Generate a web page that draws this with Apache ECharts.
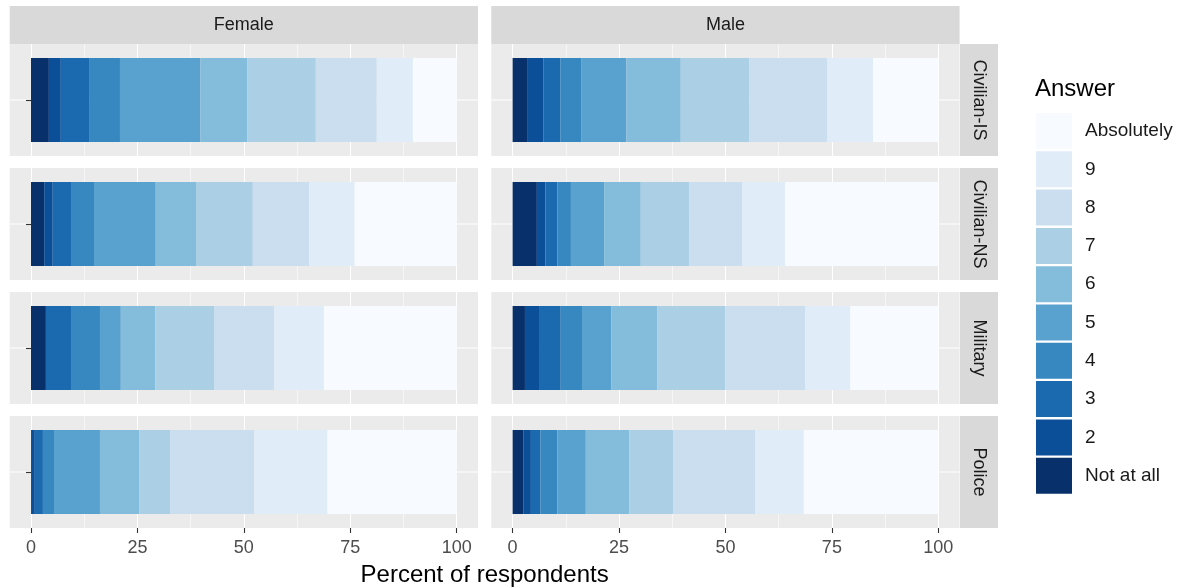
<!DOCTYPE html>
<html lang="en">
<head>
    <meta charset="UTF-8">
    <title>Answer by group</title>
    <script type="text/javascript" src="https://cdn.jsdelivr.net/npm/echarts@6/dist/echarts.min.js"></script>
    <style>
        html, body { margin: 0; padding: 0; background: #fff; }
        #container { width: 1184px; height: 588px; }
    </style>
</head>
<body>
<div id="container"></div>
<script type="text/javascript">
    // answer levels, from "Not at all" up to "Absolutely"
    var levels = ['Not at all', '2', '3', '4', '5', '6', '7', '8', '9', 'Absolutely'];
    var levelColors = ['#08306B', '#0B4F98', '#1B69AF', '#3787C0', '#59A1CF', '#84BCDB', '#ABCFE5', '#CADEF0', '#E0ECF8', '#F7FBFF'];
    var sexes = ['Female', 'Male'];
    var groups = ['Civilian-IS', 'Civilian-NS', 'Military', 'Police'];
    var xTicks = [0, 25, 50, 75, 100];

    // percent of respondents per level (Not at all ... Absolutely)
    var femaleCivilianIS = [4.2, 2.8, 6.8, 7.1, 18.9, 11.0, 16.1, 14.3, 8.5, 10.3];
    var femaleCivilianNS = [3.1, 2.0, 4.3, 5.4, 14.5, 9.6, 13.2, 13.2, 10.7, 24.0];
    var femaleMilitary   = [3.5, 0.0, 5.9, 6.8, 4.9, 8.1, 13.9, 14.0, 11.7, 31.2];
    var femalePolice     = [0.2, 0.7, 1.9, 2.6, 10.8, 9.2, 7.3, 19.7, 17.2, 30.4];
    var maleCivilianIS   = [3.4, 3.8, 4.0, 4.9, 10.6, 12.8, 16.1, 18.3, 10.8, 15.3];
    var maleCivilianNS   = [5.7, 2.0, 2.8, 3.2, 7.8, 8.6, 11.4, 12.4, 10.1, 36.0];
    var maleMilitary     = [2.9, 3.5, 4.9, 5.0, 6.9, 10.8, 16.0, 18.7, 10.6, 20.7];
    var malePolice       = [2.5, 1.8, 2.2, 4.0, 6.7, 10.2, 10.3, 19.3, 11.4, 31.6];

    var panelData = [
        [femaleCivilianIS, maleCivilianIS],
        [femaleCivilianNS, maleCivilianNS],
        [femaleMilitary, maleMilitary],
        [femalePolice, malePolice]
    ];

    // layout (pixels)
    var panelLeft = [9.7, 491.3];
    var panelW = 468.3;
    var pad = 21.3;            // 5% expansion each side
    var rowTop = [44, 168, 292, 416];
    var rowH = 112;
    var stripTop = 6;
    var rightStripX = 960;
    var stripSize = 38;
    var font = '"Liberation Sans", Arial, sans-serif';

    var grids = [], xAxes = [], yAxes = [], series = [], graphics = [];

    // panel backgrounds and centre grid lines
    for (var r = 0; r < groups.length; r++) {
        for (var c = 0; c < sexes.length; c++) {
            graphics.push({
                type: 'rect', z: -10, silent: true,
                shape: { x: panelLeft[c], y: rowTop[r], width: panelW, height: rowH },
                style: { fill: '#EBEBEB' }
            });
            graphics.push({
                type: 'line', z: -5, silent: true,
                shape: { x1: panelLeft[c], y1: rowTop[r] + rowH / 2, x2: panelLeft[c] + panelW, y2: rowTop[r] + rowH / 2 },
                style: { stroke: '#FFFFFF', lineWidth: 1.1 }
            });
        }
        // right strip
        graphics.push({
            type: 'rect', silent: true,
            shape: { x: rightStripX, y: rowTop[r], width: stripSize, height: rowH },
            style: { fill: '#D9D9D9' }
        });
        graphics.push({
            type: 'text', silent: true,
            x: rightStripX + stripSize / 2, y: rowTop[r] + rowH / 2, rotation: -Math.PI / 2,
            style: { text: groups[r], fill: '#1A1A1A', font: '18px ' + font, align: 'center', verticalAlign: 'middle' }
        });
    }
    // top strips
    for (var c2 = 0; c2 < sexes.length; c2++) {
        graphics.push({
            type: 'rect', silent: true,
            shape: { x: panelLeft[c2], y: stripTop, width: panelW, height: rowTop[0] - stripTop },
            style: { fill: '#D9D9D9' }
        });
        graphics.push({
            type: 'text', silent: true,
            x: panelLeft[c2] + panelW / 2, y: (stripTop + rowTop[0]) / 2,
            style: { text: sexes[c2], fill: '#1A1A1A', font: '18px ' + font, align: 'center', verticalAlign: 'middle' }
        });
    }
    graphics.push({
        type: 'text', silent: true, x: (panelLeft[0] + panelLeft[1] + panelW) / 2, y: 575,
        style: { text: 'Percent of respondents', fill: '#000', font: '24px ' + font, align: 'center', verticalAlign: 'middle' }
    });
    graphics.push({
        type: 'text', silent: true, x: 1035, y: 89,
        style: { text: 'Answer', fill: '#000', font: '24px ' + font, align: 'left', verticalAlign: 'middle' }
    });

    var gi = 0;
    for (var r2 = 0; r2 < groups.length; r2++) {
        for (var c3 = 0; c3 < sexes.length; c3++) {
            var bottom = r2 === groups.length - 1;
            grids.push({
                left: panelLeft[c3] + pad, top: rowTop[r2], width: panelW - 2 * pad, height: rowH,
                outerBoundsMode: 'none', containLabel: false
            });
            xAxes.push({
                gridIndex: gi, type: 'value', min: 0, max: 100, interval: 25,
                axisLine: { show: false },
                axisTick: { show: bottom, length: 5, lineStyle: { color: '#333333', width: 1.1 } },
                axisLabel: {
                    show: bottom, color: '#4D4D4D', fontSize: 18, fontFamily: font, margin: 11,
                    customValues: xTicks
                },
                splitLine: { show: true, lineStyle: { color: '#FFFFFF', width: 1.1 } },
                minorTick: { show: false, splitNumber: 2 },
                minorSplitLine: { show: true, lineStyle: { color: '#FFFFFF', width: 0.55 } }
            });
            yAxes.push({
                gridIndex: gi, type: 'category', data: [groups[r2]], offset: pad,
                axisLine: { show: false },
                axisTick: { show: c3 === 0, alignWithLabel: true, length: 5, lineStyle: { color: '#333333', width: 1.1 } },
                axisLabel: { show: false },
                splitLine: { show: false }
            });
            var vals = panelData[r2][c3];
            for (var k = 0; k < levels.length; k++) {
                series.push({
                    name: levels[k], type: 'bar', stack: 'p' + gi,
                    xAxisIndex: gi, yAxisIndex: gi,
                    barWidth: '75%',
                    itemStyle: { color: levelColors[k] },
                    emphasis: { disabled: true },
                    data: [vals[k]]
                });
            }
            gi++;
        }
    }

    var dom = document.getElementById('container');
    var myChart = echarts.init(dom, null, { renderer: 'canvas', useDirtyRect: false });
    var option = {
        animation: false,
        backgroundColor: '#FFFFFF',
        textStyle: { fontFamily: font },
        grid: grids,
        xAxis: xAxes,
        yAxis: yAxes,
        legend: {
            orient: 'vertical', left: 1036, top: 113, padding: 0,
            itemWidth: 36, itemHeight: 36, itemGap: 2.3, icon: 'rect',
            data: levels.slice().reverse(),
            textStyle: { fontSize: 19, color: '#1A1A1A', fontFamily: font, padding: [0, 0, 0, 8] },
            selectedMode: false
        },
        graphic: { elements: graphics },
        series: series
    };
    myChart.setOption(option);
    window.addEventListener('resize', myChart.resize);
</script>
</body>
</html>
